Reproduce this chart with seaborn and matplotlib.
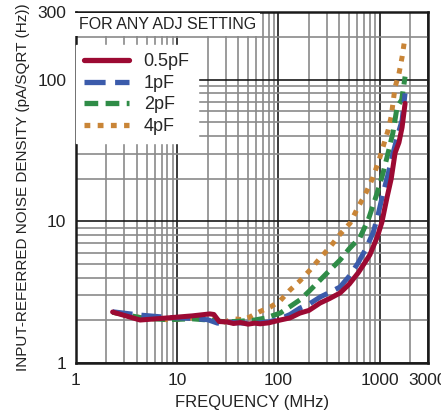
import numpy as np
import pandas as pd
import matplotlib
matplotlib.use("Agg")
import matplotlib.pyplot as plt
import seaborn as sns
from matplotlib.ticker import FixedLocator, LogLocator, NullFormatter

# values
freq_05 = [2.3, 4.3, 8.0, 14, 21, 23, 26, 31, 36, 42, 50, 58, 66, 80, 104, 130, 163, 200, 258, 320, 406, 500, 612, 700, 800, 943, 1050, 1183, 1300, 1420, 1550, 1664, 1782]
nd_05 = [2.29, 2.01, 2.08, 2.15, 2.22, 2.2, 1.96, 1.95, 1.9, 1.93, 1.88, 1.91, 1.89, 1.92, 2.01, 2.08, 2.25, 2.35, 2.65, 2.85, 3.12, 3.6, 4.32, 5.0, 5.8, 7.7, 9.8, 14.8, 20, 30.4, 36, 46, 68]

freq_1 = [2.3, 4.3, 8.0, 14, 20, 25, 30, 40, 56, 80, 104, 130, 163, 200, 258, 320, 406, 500, 612, 730, 861, 960, 1081, 1200, 1356, 1500, 1664, 1782]
nd_1 = [2.3, 2.18, 2.1, 2.06, 2.02, 1.91, 1.95, 1.92, 1.9, 1.95, 2.05, 2.2, 2.44, 2.6, 2.92, 3.15, 3.44, 4.1, 5.08, 6.4, 8.3, 11, 15.8, 21, 30.4, 40, 51.7, 80]

freq_2 = [2.3, 4.5, 8.0, 14, 22, 30, 40, 56, 75, 104, 130, 163, 200, 258, 320, 406, 500, 640, 780, 943, 1081, 1211, 1350, 1486, 1650, 1782]
nd_2 = [2.28, 2.08, 2.02, 2.05, 2.0, 1.95, 1.97, 2.0, 2.08, 2.25, 2.5, 2.79, 3.2, 3.85, 4.5, 5.33, 6.4, 7.7, 10.5, 15.8, 22, 30.4, 42, 64, 72, 105]

freq_4 = [2.3, 4.5, 8.0, 14, 22, 28, 36, 45, 52, 65, 83, 104, 130, 163, 205, 258, 324, 400, 510, 612, 720, 861, 1000, 1211, 1300, 1420, 1550, 1664, 1782]
nd_4 = [2.28, 2.08, 2.02, 2.08, 2.05, 1.92, 2.05, 2.02, 2.11, 2.3, 2.48, 2.75, 3.27, 3.8, 4.53, 5.5, 6.6, 8.0, 9.7, 12.6, 15.5, 20.5, 28, 44, 55, 88.7, 110, 144, 200]

labels = ["0.5pF", "1pF", "2pF", "4pF"]
colors = ["#9c0a33", "#3b5bab", "#2f8c47", "#c98537"]
dashes = [(None, None), (4, 1.8), (2.6, 1.4), (1.1, 1.4)]

df = pd.concat([
    pd.DataFrame({"f": freq_05, "n": nd_05, "cap": labels[0]}),
    pd.DataFrame({"f": freq_1, "n": nd_1, "cap": labels[1]}),
    pd.DataFrame({"f": freq_2, "n": nd_2, "cap": labels[2]}),
    pd.DataFrame({"f": freq_4, "n": nd_4, "cap": labels[3]}),
])

sns.set_style("white")
plt.rcParams["font.family"] = ["Liberation Sans", "DejaVu Sans"]

fig = plt.figure(figsize=(4.41, 4.18), dpi=100)
ax = fig.add_axes([0.1723, 0.1316, 0.7982, 0.8397])

# draw back to front so red sits on top
for lab, col, d in reversed(list(zip(labels, colors, dashes))):
    sub = df[df["cap"] == lab]
    sns.lineplot(data=sub, x="f", y="n", ax=ax, color=col, lw=3.6,
                 label=lab, estimator=None, sort=False)
    if d[0] is not None:
        ax.lines[-1].set_dashes(d)

ax.set_xscale("log")
ax.set_yscale("log")
ax.set_xlim(1, 3000)
ax.set_ylim(1, 300)

ax.xaxis.set_major_locator(FixedLocator([1, 10, 100, 1000, 3000]))
ax.set_xticklabels(["1", "10", "100", "1000", "3000"])
ax.xaxis.set_minor_locator(LogLocator(base=10, subs=np.arange(2, 10), numticks=20))
ax.xaxis.set_minor_formatter(NullFormatter())
ax.yaxis.set_major_locator(FixedLocator([1, 10, 100, 300]))
ax.set_yticklabels(["1", "10", "100", "300"])
ax.yaxis.set_minor_locator(LogLocator(base=10, subs=np.arange(2, 10), numticks=20))
ax.yaxis.set_minor_formatter(NullFormatter())

ax.grid(True, which="major", color="#1a1a1a", lw=1.2)
ax.grid(True, which="minor", color="#8a8a8a", lw=1.2)
ax.set_axisbelow(True)
ax.tick_params(which="both", length=0, labelsize=12.5, pad=7, colors="#222222")
for s in ax.spines.values():
    s.set_color("#1a1a1a")
    s.set_linewidth(1.8)

ax.set_xlabel("FREQUENCY (MHz)", fontsize=12, color="#222222", labelpad=5)
ax.set_ylabel("INPUT-REFERRED NOISE DENSITY (pA/SQRT (Hz))", fontsize=11,
              color="#222222", labelpad=5)

handles, labs = ax.get_legend_handles_labels()
order = [labs.index(l) for l in labels]
leg = ax.legend([handles[i] for i in order], labels, loc="upper left",
                bbox_to_anchor=(0.0, 0.905), fontsize=13, frameon=True,
                fancybox=False, framealpha=1, edgecolor="white",
                handlelength=2.5, handletextpad=0.8, labelspacing=0.25,
                borderaxespad=0.0, borderpad=0.45)
for h in leg.get_lines():
    h.set_linewidth(3.8)

ax.text(0.008, 0.985, "FOR ANY ADJ SETTING", transform=ax.transAxes,
        fontsize=11.5, color="#222222", ha="left", va="top",
        bbox=dict(facecolor="white", edgecolor="none", pad=3))

fig.savefig("out.png", dpi=100)
